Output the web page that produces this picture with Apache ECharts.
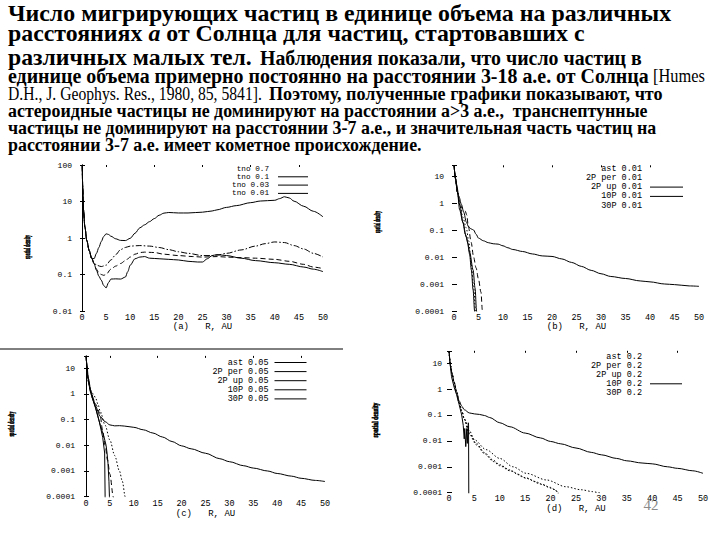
<!DOCTYPE html>
<html><head><meta charset="utf-8">
<script src="https://cdn.jsdelivr.net/npm/echarts@6/dist/echarts.min.js"></script>
<style>html,body{margin:0;padding:0;background:#fff}#c{width:720px;height:540px}</style>
</head><body><div id="c"></div>
<script>
// ---------- tick labels / legends ----------
const xMin = 0, xMax = 50, xStep = 5;
const topTicksA = [5, 15, 25, 35, 45];
const topTicksB = [10, 20, 30, 40];
const legendA = ['tno 0.7', 'tno 0.1', 'tno 0.03', 'tno 0.01'];
const legendB = ['ast 0.01', '2P per 0.01', '2P up 0.01', '10P 0.01', '30P 0.01'];
const legendC = ['ast 0.05', '2P per 0.05', '2P up 0.05', '10P 0.05', '30P 0.05'];
const legendD = ['ast 0.2', '2P per 0.2', '2P up 0.2', '10P 0.2', '30P 0.2'];

// ---------- panel (a) ----------
const tno07 = [[0.05,95],[0.15,25],[0.3,6],[0.6,2],[1,0.85],[1.5,0.45],[2,0.28],[2.5,0.27],[3,0.38],[3.5,0.55],[4,0.8],[4.5,1.1],[5,1.3],[5.5,1.25],[6,1.12],[7,0.95],[8,0.86],[9,0.85],[10,0.98],[11,1.35],[12,1.9],[13,2.3],[14,2.8],[15,3.4],[16,4.2],[17,4.8],[18,5.0],[20,4.85],[22,4.85],[25,5.1],[27,5.5],[28,5.9],[30,6.9],[32,7.7],[35,9.3],[37,10.3],[40,10.8],[41,12],[42,13.5],[43,12.5],[44,10.2],[46,7.4],[48,5.4],[50,3.8]];
const tno01 = [[0.05,95],[0.15,25],[0.3,6],[0.6,2],[1,0.85],[1.5,0.45],[2,0.28],[2.5,0.21],[3,0.18],[4,0.165],[5,0.18],[6,0.25],[7,0.35],[8,0.48],[9,0.55],[10,0.6],[12,0.62],[14,0.6],[16,0.55],[18,0.48],[20,0.42],[22,0.38],[25,0.33],[27,0.33],[28,0.34],[30,0.38],[33,0.47],[36,0.6],[38,0.7],[40,0.78],[42,0.75],[44,0.62],[46,0.5],[48,0.38],[50,0.3]];
const tno003 = [[0.05,95],[0.15,25],[0.3,6],[0.6,2],[1,0.85],[1.5,0.45],[2,0.28],[2.5,0.2],[3,0.14],[3.5,0.11],[4,0.1],[4.5,0.095],[5,0.1],[6,0.14],[7,0.17],[8,0.2],[9,0.24],[10,0.3],[11,0.36],[12,0.4],[13,0.41],[15,0.4],[17,0.36],[20,0.33],[23,0.31],[25,0.3],[28,0.31],[30,0.3],[33,0.29],[36,0.28],[40,0.26],[43,0.23],[46,0.19],[48,0.16],[50,0.145]];
const tno001 = [[0.05,95],[0.15,25],[0.3,6],[0.6,2],[1,0.85],[1.5,0.45],[2,0.28],[2.5,0.2],[3,0.13],[3.5,0.09],[4,0.07],[4.5,0.05],[5,0.043],[5.5,0.06],[6,0.075],[7,0.076],[8,0.075],[9,0.085],[9.5,0.12],[10,0.18],[11,0.27],[12,0.3],[13,0.31],[14,0.28],[16,0.27],[18,0.26],[20,0.25],[22,0.23],[24,0.22],[25,0.22],[26,0.27],[27,0.33],[28,0.35],[30,0.33],[33,0.28],[36,0.24],[40,0.21],[43,0.19],[46,0.16],[48,0.14],[50,0.12]];

// ---------- panel (b) ----------
const ast001 = [[0.02,25],[0.3,8],[0.7,2.5],[1.2,0.8],[1.84,0.18],[2.3,0.07],[2.86,0.032],[3.2,0.012],[3.54,0.0033],[3.9,0.0006],[4.2,0.0001],[4.3,0.00005]];
const p2per001 = [[0.02,25],[0.2,12],[0.5,5],[1,1.8],[1.5,0.9],[2,0.45],[2.5,0.2],[3,0.13],[3.5,0.11],[4,0.1],[4.5,0.07],[5,0.05],[6,0.04],[7,0.034],[8,0.031],[9,0.03],[10,0.026],[11,0.022],[12,0.019],[14,0.016],[16,0.013],[18,0.011],[20,0.0105],[22,0.0085],[24,0.0063],[26,0.0045],[28,0.0032],[30,0.0024],[32,0.0019],[35,0.0016],[38,0.0013],[40,0.0012],[43,0.001],[45,0.00095],[48,0.00085],[50,0.00082]];
const p2up001 = [[0.02,25],[0.3,8],[0.7,2.5],[1.16,0.55],[1.8,0.2],[2.5,0.056],[3.2,0.015],[3.9,0.0033],[4.3,0.0007],[4.6,0.0001],[4.7,0.00005]];
const p10001 = [[0.02,25],[0.3,8],[0.7,2.5],[1.2,0.9],[1.8,0.6],[2.3,0.5],[2.6,0.36],[2.9,0.15],[3.5,0.035],[4,0.01],[4.5,0.004],[5,0.0015],[5.5,0.0005],[5.8,0.0001],[5.9,0.00005]];
const p30001 = [[0.02,25],[0.3,8],[0.7,2.5],[1.2,0.85],[1.8,0.3],[2.5,0.12],[3,0.04],[3.5,0.006],[4,0.0008],[4.4,0.0001],[4.5,0.00005]];

// ---------- panel (c) ----------
const ast005 = [[0.02,30],[0.3,6],[0.7,2],[1.2,0.8],[2,0.3],[2.8,0.08],[3.5,0.02],[3.9,0.005],[4,0.0001],[4.05,0.00004]];
const p2per005 = [[0.02,30],[0.2,12],[0.5,4],[1,1.4],[1.5,0.65],[2,0.32],[3,0.13],[4,0.083],[5,0.062],[6,0.057],[7,0.058],[8,0.056],[10,0.05],[12,0.04],[14,0.03],[16,0.021],[18,0.014],[20,0.0095],[22,0.0073],[25,0.0049],[28,0.003],[30,0.0023],[33,0.0016],[35,0.0013],[38,0.001],[40,0.0008],[43,0.00063],[45,0.00052],[48,0.00043],[50,0.00039]];
const p2up005 = [[0.02,30],[0.3,6],[0.7,2],[1.2,0.8],[2,0.28],[3,0.06],[3.8,0.02],[4.2,0.01],[4.4,0.005],[4.6,0.002],[4.8,0.0004],[4.9,0.0001],[4.95,0.00004]];
const p10005 = [[0.02,30],[0.5,3],[1,1.2],[1.5,1.0],[2,0.7],[2.5,0.4],[3,0.2],[4,0.06],[5,0.016],[6,0.004],[7,0.001],[7.6,0.0004],[8.2,0.0001],[8.3,0.00008]];
const p30005 = [[0.02,30],[0.5,3],[1,1.1],[2,0.4],[2.9,0.177],[3.5,0.036],[4,0.01],[4.5,0.0027],[5,0.00075],[5.7,0.0001],[5.8,0.00007]];

// ---------- panel (d) ----------
const ast02 = [[0.02,28],[0.3,8],[0.6,4],[1,1.8],[1.5,0.7],[2,0.3],[2.5,0.15],[3,0.07],[4,0.025],[5,0.011],[7.3,0.0046],[10,0.0021],[12.6,0.001],[15.2,0.00056],[19.2,0.00031],[23,0.00017],[26,0.00013],[28.3,0.00011],[29.5,0.0001],[30,0.00009]];
const p2per02 = [[0.02,28],[0.3,8],[0.6,4],[1,1.9],[1.5,0.8],[2,0.35],[2.5,0.22],[3,0.16],[4,0.12],[5,0.11],[6,0.105],[7,0.095],[8,0.08],[10,0.05],[12,0.035],[15,0.02],[18,0.013],[20,0.0095],[22,0.0077],[25,0.0053],[28,0.0036],[30,0.0029],[33,0.0021],[35,0.0017],[38,0.0014],[40,0.0013],[43,0.001],[45,0.00087],[48,0.0007],[50,0.00056]];
const p2up02 = [[0.02,28],[0.3,8],[0.6,4],[1,1.8],[1.5,0.7],[2,0.3],[2.5,0.15],[3,0.07],[4,0.02],[5.4,0.0079],[7,0.0035],[8.7,0.0018],[10,0.0012],[12,0.00075],[13.5,0.00052],[15.2,0.00036],[17,0.00027],[18.5,0.0002],[20,0.00015],[21,0.00013],[21.5,0.00008]];
const p10p02 = [[0.02,28],[0.2,10],[0.5,3],[1,1.2],[1.5,0.6],[2,0.25],[2.5,0.1],[2.8,0.04],[3,0.012],[3.1,0.03],[3.3,0.006],[3.5,0.03],[3.6,0.008],[3.8,0.05],[3.85,0.04],[3.9,0.00005]];
const p30p02 = [[0.02,28],[0.3,8],[0.6,4],[1,1.8],[1.5,0.7],[2,0.3],[2.5,0.15],[3,0.07],[4,0.018],[5.4,0.007],[7,0.0032],[8.7,0.0016],[10,0.0011],[12,0.0007],[15,0.00038],[18,0.00022],[20,0.00016],[21,0.00012],[21.5,0.0001],[21.6,0.00006]];

// ---------- build ----------
const DOT = [1.5, 2], DASH = [5, 3], DASHDOT = [6, 2, 1.5, 2];
const grids = [
  {left: 82, right: 397, top: 165, bottom: 229, ymin: 0.01, ymax: 100, lblMargin: 2, nameGap: 9.5, name: '(a)   R, AU', leftLine: true, rightLine: true, yMargin: 10, top2: topTicksA},
  {left: 454, right: 21, top: 165.3, bottom: 229, ymin: 0.0001, ymax: 25, lblMargin: 2, nameGap: 9.5, name: '(b)   R, AU', leftLine: false, rightLine: false, yMargin: 10, top2: topTicksB},
  {left: 86, right: 395, top: 355.9, bottom: 43.3, ymin: 0.0001, ymax: 30, lblMargin: 3, nameGap: 12, name: '(c)   R, AU', leftLine: true, rightLine: false, yMargin: 11, top2: topTicksA},
  {left: 449, right: 17, top: 350.8, bottom: 47.3, ymin: 0.0001, ymax: 30, lblMargin: 2, nameGap: 11, name: '(d)   R, AU', leftLine: false, rightLine: false, yMargin: 7, top2: topTicksA}
];
function powLabel(v) {
  const l = Math.log10(v), r = Math.round(l);
  if (Math.abs(l - r) > 1e-3) return '';
  return r >= 0 ? String(Math.pow(10, r)) : '0.' + '0'.repeat(-r - 1) + '1';
}
const mono = 'Liberation Mono';
const xAxis = [], yAxis = [];
grids.forEach((g, i) => {
  xAxis.push({type: 'value', gridIndex: i, min: xMin, max: xMax, interval: xStep, position: 'bottom',
    axisLine: {show: false}, axisTick: {show: false}, splitLine: {show: false},
    axisLabel: {margin: g.lblMargin, fontFamily: mono, fontSize: 8.5, color: '#000'},
    name: g.name, nameLocation: 'middle', nameGap: g.nameGap,
    nameTextStyle: {fontFamily: mono, fontSize: 9, color: '#000'}});
  xAxis.push({type: 'value', gridIndex: i, min: xMin, max: xMax, interval: xStep, position: 'top',
    axisLine: {show: false}, splitLine: {show: false}, axisLabel: {show: false},
    axisTick: {show: true, inside: true, length: 2, customValues: g.top2, lineStyle: {color: '#000'}}});
  yAxis.push({type: 'log', logBase: 10, gridIndex: i, min: g.ymin, max: g.ymax, position: 'left',
    axisLine: {show: g.leftLine, lineStyle: {color: '#000', width: 1}},
    axisTick: {show: true, inside: true, length: 3, lineStyle: {color: '#000'}},
    splitLine: {show: false}, minorTick: {show: false},
    axisLabel: {margin: g.yMargin, fontFamily: mono, fontSize: 8, color: '#000', formatter: powLabel}});
  yAxis.push({type: 'log', logBase: 10, gridIndex: i, min: g.ymin, max: g.ymax, position: 'right',
    axisLine: {show: g.rightLine, lineStyle: {color: '#000', width: 1}},
    axisTick: {show: true, inside: true, length: 2, lineStyle: {color: '#000'}},
    splitLine: {show: false}, axisLabel: {show: false}});
});
function ln(name, data, g, type, smooth) {
  return {type: 'line', name, data, xAxisIndex: 2 * g, yAxisIndex: 2 * g, symbol: 'none', showSymbol: false,
    smooth: smooth === undefined ? 0.3 : smooth, smoothMonotone: 'x', clip: true, silent: true,
    itemStyle: {color: '#000'}, lineStyle: {color: '#000', width: 1, type}};
}
const series = [
  ln(legendA[0], tno07, 0, 'solid'), ln(legendA[1], tno01, 0, DASHDOT), ln(legendA[2], tno003, 0, DASH), ln(legendA[3], tno001, 0, 'solid'),
  ln(legendB[0], ast001, 1, 'solid'), ln(legendB[1], p2per001, 1, 'solid'), ln(legendB[2], p2up001, 1, 'solid'), ln(legendB[3], p10001, 1, DASH), ln(legendB[4], p30001, 1, DOT),
  ln(legendC[0], ast005, 2, 'solid', false), ln(legendC[1], p2per005, 2, 'solid'), ln(legendC[2], p2up005, 2, 'solid', false), ln(legendC[3], p10005, 2, DOT), ln(legendC[4], p30005, 2, DASH),
  ln(legendD[0], ast02, 3, DOT), ln(legendD[1], p2per02, 3, 'solid'), ln(legendD[2], p2up02, 3, DOT), ln(legendD[3], p10p02, 3, 'solid', false), ln(legendD[4], p30p02, 3, DOT)
];
const legendShow = [[0,1,1,1],[0,0,1,1,0],[1,1,1,1,1],[0,0,0,1,0]];
const legendPos = [
  {right: 411, top: 164.5, itemWidth: 30, fs: 7.7, lh: 6.2, gap: 0.3, pad: 4},
  {right: 36, top: 164, itemWidth: 33, fs: 8.5, lh: 6, gap: 0.3, pad: 3},
  {right: 413, top: 358, itemWidth: 32, fs: 8.5, lh: 5.6, gap: 0.1, pad: 1},
  {right: 37, top: 352, itemWidth: 32, fs: 8.5, lh: 5.8, gap: 0.1, pad: 3}
];
const legends = [legendA, legendB, legendC, legendD].map((names, i) => ({
  orient: 'vertical', right: legendPos[i].right, top: legendPos[i].top, align: 'right', padding: 0,
  itemWidth: legendPos[i].itemWidth, itemHeight: legendPos[i].lh, itemGap: legendPos[i].gap, selectedMode: false,
  itemStyle: {opacity: 0, borderWidth: 0},
  textStyle: {fontFamily: mono, fontSize: legendPos[i].fs, lineHeight: legendPos[i].lh, color: '#000', padding: [0, legendPos[i].pad, 0, 0]},
  data: names.map((n, k) => ({name: n, itemStyle: {opacity: 0, borderWidth: 0},
    lineStyle: legendShow[i][k] ? {type: 'solid', width: 1, color: '#000', opacity: 1} : {opacity: 0}}))
}));

// ---------- heading text ----------
const cv = document.createElement('canvas').getContext('2d');
function tw(str, font) { cv.font = font; return cv.measureText(str).width; }
const SER = "'Liberation Serif','Times New Roman',serif";
const B = 'b', R = 'r', BI = 'bi';
const fontOf = (k, sz) => `${k === BI ? 'italic ' : ''}${k === R ? '' : 'bold '}${sz}px ${SER}`;
const runs = [
  {x0: 8, x1: 671, base: 20.5, sz: 23, lh: 20, segs: [['Число мигрирующих частиц в единице объема на различных', B]]},
  {x0: 8, x1: 585, base: 41, sz: 23, segs: [['расстояниях ', B], ['а', BI], [' от Солнца для частиц, стартовавших с', B]]},
  {x0: 8, x1: 252, base: 64.5, sz: 23, segs: [['различных малых тел.', B]]},
  {x0: 260, x1: 642, base: 64.5, sz: 20, segs: [['Наблюдения показали, что число частиц в', B]]},
  {x0: 8, x1: 649, base: 82.5, sz: 20, segs: [['единице объема примерно постоянно на расстоянии 3-18 а.е. от Солнца', B]]},
  {x0: 653, x1: 705, base: 82.5, sz: 19, segs: [['[Humes', R]]},
  {x0: 8, x1: 262, base: 100, sz: 18, segs: [['D.H., J. Geophys. Res., 1980, 85, 5841].', R]]},
  {x0: 269, x1: 663, base: 100, sz: 18, segs: [['Поэтому, полученные графики показывают, что', B]]},
  {x0: 8, x1: 648, base: 117.5, sz: 18, segs: [['астероидные частицы не доминируют на расстоянии a>3 а.е.,  транснептунные', B]]},
  {x0: 8, x1: 657, base: 134, sz: 18, segs: [['частицы не доминируют на расстоянии 3-7 а.е., и значительная часть частиц на', B]]},
  {x0: 8, x1: 422, base: 151, sz: 18, segs: [['расстоянии 3-7 а.е. имеет кометное происхождение.', B]]}
];
const graphic = [];
runs.forEach(r => {
  const widths = r.segs.map(s => tw(s[0], fontOf(s[1], r.sz)));
  const total = widths.reduce((a, b) => a + b, 0);
  const sc = (r.x1 - r.x0) / total;
  let acc = 0;
  r.segs.forEach((s, k) => {
    graphic.push({type: 'text', x: r.x0 + acc * sc, y: r.base - 0.34 * r.sz, scaleX: sc, silent: true,
      style: {text: s[0], font: fontOf(s[1], r.sz), fill: '#000', align: 'left', verticalAlign: 'middle', lineHeight: r.lh || r.sz}});
    acc += widths[k];
  });
});
// y-axis titles (rotated, compressed)
const yTitles = [{x: 27, y: 247, len: 24}, {x: 377, y: 222, len: 22}, {x: 11, y: 424, len: 25}, {x: 375.5, y: 420, len: 35}];
const yFont = `bold 9px ${SER}`;
yTitles.forEach(t => {
  const sc = t.len / tw('spatial density', yFont);
  graphic.push({type: 'text', x: t.x, y: t.y, rotation: Math.PI / 2, scaleX: sc, silent: true,
    style: {text: 'spatial density', font: yFont, fill: '#000', stroke: '#000', lineWidth: 0.6, align: 'center', verticalAlign: 'middle'}});
});
graphic.push({type: 'line', silent: true, shape: {x1: 0, y1: 349, x2: 343, y2: 349}, style: {stroke: '#000', lineWidth: 1}});
graphic.push({type: 'text', x: 651, y: 504.5, silent: true,
  style: {text: '42', font: `15px ${SER}`, fill: '#8a8a8a', align: 'center', verticalAlign: 'middle'}});

const chart = echarts.init(document.getElementById('c'), null, {renderer: 'svg', width: 720, height: 540});
chart.setOption({
  animation: false,
  backgroundColor: '#fff',
  color: ['#000'],
  grid: grids.map(g => ({left: g.left, right: g.right, top: g.top, bottom: g.bottom, containLabel: false})),
  xAxis, yAxis, legend: legends, series, graphic
});
</script></body></html>
